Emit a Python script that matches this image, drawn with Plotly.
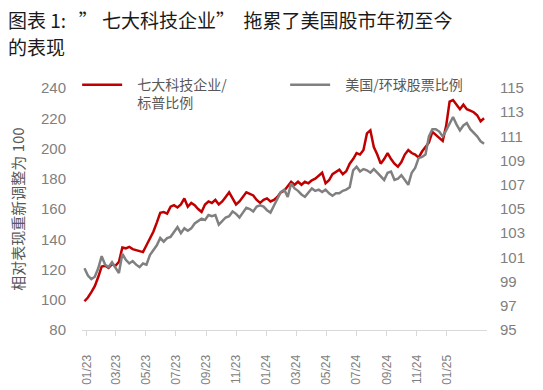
import pandas as pd
import plotly.graph_objects as go

# weekly observation dates (Dec 2022 - Mar 2025)
dates = pd.date_range("2022-12-27", periods=117, freq="7D")

# 七大科技企业/标普比例 (left axis, rebased to 100)
mag7_vs_spx = [
    99, 101.5, 105, 109, 115, 122, 122.5, 121, 123.5, 122.5,
    125, 134.5, 134, 135, 133.5, 133, 132, 131.5, 136, 140,
    145, 151, 157.5, 158, 157, 161.5, 162.5, 161, 163, 167,
    161.5, 164, 162.5, 160, 158, 163, 165, 164, 166, 163,
    165, 168, 171, 167, 163, 165, 168, 171, 170, 169,
    166, 164, 166, 167, 165, 166, 168, 171, 172, 175,
    178, 176, 178, 176, 178, 177, 179, 180, 182, 184,
    177, 179, 183, 184.5, 186, 183, 185, 190, 193, 197,
    196, 199, 210, 212, 201, 196, 190, 193, 197, 193,
    190, 188, 191, 196, 199, 197, 196, 194, 198, 201,
    204, 211, 209, 207, 205, 215, 231, 232, 229, 226,
    229, 226, 225, 224, 222, 218, 220,
]

# 美国/环球股票比例 (right axis)
us_vs_world = [
    100.1, 99.5, 99.2, 99.4, 100.1, 101.1, 100.4, 100.2, 100.6, 100.1,
    99.7, 101.3, 100.8, 100.5, 100.7, 100.4, 100.2, 100.5, 100.4, 101.2,
    101.6, 102.0, 102.6, 102.3, 102.6, 102.7, 103.1, 103.5, 103.0, 103.4,
    103.2, 103.4, 103.8, 104.0, 104.2, 104.1, 104.5, 104.4, 104.5, 103.7,
    104.0, 104.3, 104.4, 104.8, 104.6, 104.3, 104.7, 105.1, 105.0, 104.8,
    105.2, 105.3, 105.2, 104.9, 104.7, 105.3, 105.9, 106.4, 106.6, 106.0,
    107.1, 106.7, 106.5, 106.2, 106.0, 106.4, 106.7, 106.5, 106.6, 106.4,
    106.6, 106.3, 106.1, 106.3, 106.3, 106.5, 106.6, 106.8, 108.2, 108.5,
    108.1, 108.3, 108.2, 108.0, 108.3, 108.0, 107.7, 107.4, 108.0, 108.1,
    107.4, 107.5, 107.8, 107.4, 107.0, 108.0, 108.4, 109.2, 109.3, 109.5,
    111.0, 111.6, 111.6, 111.4, 111.0, 111.5, 112.0, 112.6, 112.0, 111.5,
    111.9, 112.1, 111.6, 111.3, 111.0, 110.6, 110.4,
]

left_ticks = [80, 100, 120, 140, 160, 180, 200, 220, 240]
right_ticks = [95, 97, 99, 101, 103, 105, 107, 109, 111, 113, 115]
x_tick_dates = ["2023-01-01", "2023-03-01", "2023-05-01", "2023-07-01", "2023-09-01",
                "2023-11-01", "2024-01-01", "2024-03-01", "2024-05-01", "2024-07-01",
                "2024-09-01", "2024-11-01", "2025-01-01"]
x_tick_labels = ["01/23", "03/23", "05/23", "07/23", "09/23", "11/23", "01/24",
                 "03/24", "05/24", "07/24", "09/24", "11/24", "01/25"]

RED = "#c00000"
GRAY = "#808080"
TICK = "#7f7f7f"
FONT = "Liberation Sans, Noto Sans CJK SC, sans-serif"
CJK = "Noto Sans CJK SC, sans-serif"
PAD = "\u2002\u00a0"
NB = "\u00a0"

fig = go.Figure()
fig.add_trace(go.Scatter(
    x=dates, y=mag7_vs_spx, mode="lines", name=PAD + "七大科技企业/<br>" + PAD + "标普比例",
    line=dict(color=RED, width=2.5), yaxis="y"))
fig.add_trace(go.Scatter(
    x=dates, y=us_vs_world, mode="lines", name=PAD + "美国/环球股票比例",
    line=dict(color=GRAY, width=2.5), yaxis="y2"))

title_line1 = ("图表" + NB + "1:" + NB * 3 + "”" + NB + "七大科技企业” " + NB
               + "拖累了美国股市年初至今")
title_line2 = "的表现"

def title_ann(text, top_px):
    return dict(
        text=text, font=dict(family=CJK, size=19, color="#1a1a1a"),
        xref="paper", yref="paper", x=(6 - 82) / 405, xanchor="left",
        y=(330 - top_px) / 242, yanchor="top", align="left", showarrow=False)

fig.update_layout(
    width=543, height=390,
    margin=dict(l=82, r=56, t=88, b=60, autoexpand=False),
    paper_bgcolor="white", plot_bgcolor="white",
    font=dict(family=FONT, color=TICK, size=14),
    annotations=[title_ann(title_line1, 4), title_ann(title_line2, 31)],
    showlegend=True,
    legend=dict(
        orientation="h", x=-0.012, xanchor="left", y=1.078, yanchor="top",
        font=dict(family=CJK, size=14, color="#595959"),
        valign="top", itemwidth=40, entrywidth=153, entrywidthmode="pixels",
        bgcolor="rgba(0,0,0,0)", traceorder="normal"),
    xaxis=dict(
        type="date", range=["2022-12-22", "2025-03-24"], automargin=False,
        tickvals=x_tick_dates, ticktext=x_tick_labels, tickangle=-90,
        showline=True, linecolor="#d9d9d9", linewidth=1,
        ticks="outside", ticklen=5, tickcolor="#d9d9d9",
        tickfont=dict(size=12, color=TICK), ticklabelstandoff=14,
        showgrid=False, zeroline=False),
    yaxis=dict(
        range=[80, 240], tickvals=left_ticks, showgrid=False, zeroline=False,
        showline=False, ticks="", tickfont=dict(size=15, color=TICK),
        ticklabelstandoff=15, automargin=False,
        title=dict(text="相对表现重新调整为 100", font=dict(family=CJK, size=15, color="#595959"),
                   standoff=12)),
    yaxis2=dict(
        range=[95, 115], tickvals=right_ticks, overlaying="y", side="right",
        showgrid=False, zeroline=False, showline=False, ticks="", automargin=False,
        tickfont=dict(size=15, color=TICK), ticklabelstandoff=12),
)

fig.write_html(
    "out.html",
    config={"displayModeBar": False},
    post_script="document.body.style.margin='0';document.body.style.padding='0';",
)
